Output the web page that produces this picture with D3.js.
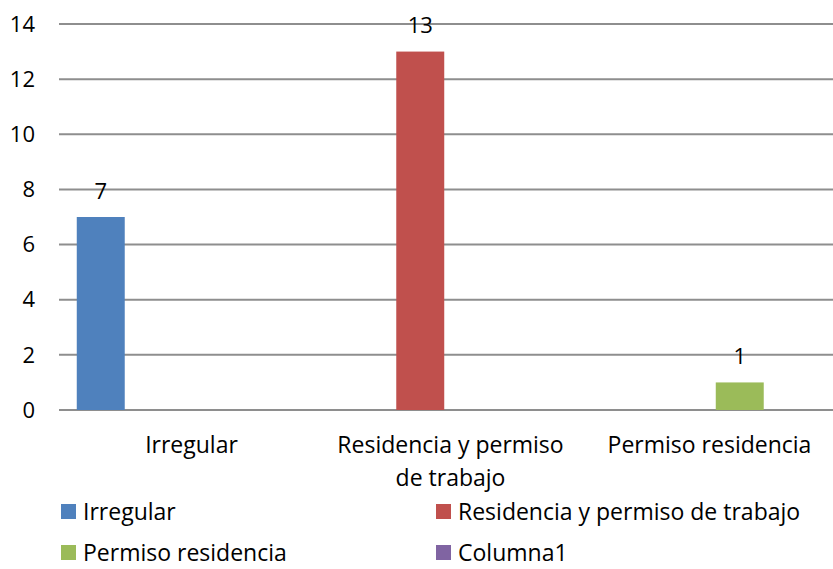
<!DOCTYPE html>
<html>
<head>
<meta charset="utf-8">
<script src="https://cdn.jsdelivr.net/npm/d3@7"></script>
<style>
  body { margin: 0; background: #fff; }
  text { font-family: 'Open Sans', sans-serif; fill: #000; }
</style>
</head>
<body>
<div id="chart"></div>
<script>
// data
const categories = ["Irregular", "Residencia y permiso de trabajo", "Permiso residencia"];
const series = ["Irregular", "Residencia y permiso de trabajo", "Permiso residencia", "Columna1"];
const colors = ["#4F81BD", "#C0504D", "#9BBB59", "#8064A2"];
// values[series][category]; null = no bar
const values = [
  [7, null, null],
  [null, 13, null],
  [null, null, 1],
  [null, null, null]
];
const yTicks = [0, 2, 4, 6, 8, 10, 12, 14];
const catLabelLines = [["Irregular"], ["Residencia y permiso", "de trabajo"], ["Permiso residencia"]];

const W = 833, H = 569;
const FS = 23;
const svg = d3.select("#chart").append("svg")
  .attr("width", W).attr("height", H)
  .attr("viewBox", `0 0 ${W} ${H}`);

const x0 = d3.scaleBand().domain(categories).range([62, 839]).paddingInner(0).paddingOuter(0);
const x1 = d3.scaleBand().domain(series).range([0, x0.bandwidth()]).paddingInner(0.207).paddingOuter(0.244);
const y = d3.scaleLinear().domain([0, 14]).range([410, 24]);

// gridlines
svg.append("g")
  .selectAll("line").data(yTicks).join("line")
  .attr("x1", 59).attr("x2", W)
  .attr("y1", d => y(d)).attr("y2", d => y(d))
  .attr("stroke", "#8e8e8e").attr("stroke-width", 2);

// y tick labels
svg.append("g")
  .selectAll("text").data(yTicks).join("text")
  .attr("x", 35).attr("y", d => y(d))
  .attr("dy", "0.35em").attr("text-anchor", "end")
  .attr("font-size", 22)
  .text(d => d);

// bars
const bars = [];
series.forEach((s, i) => categories.forEach((c, j) => {
  if (values[i][j] != null) bars.push({ s, c, v: values[i][j], color: colors[i] });
}));

svg.append("g")
  .selectAll("rect").data(bars).join("rect")
  .attr("x", d => x0(d.c) + x1(d.s))
  .attr("width", x1.bandwidth())
  .attr("y", d => y(d.v))
  .attr("height", d => y(0) - y(d.v))
  .attr("fill", d => d.color);

// data labels
svg.append("g")
  .selectAll("text").data(bars).join("text")
  .attr("x", d => x0(d.c) + x1(d.s) + x1.bandwidth() / 2)
  .attr("y", d => y(d.v) - 26)
  .attr("dy", "0.35em").attr("text-anchor", "middle")
  .attr("font-size", 22)
  .text(d => d.v);

// category labels
const cl = svg.append("g")
  .selectAll("text").data(categories).join("text")
  .attr("text-anchor", "middle")
  .attr("font-size", FS)
  .attr("transform", d => `translate(${x0(d) + x0.bandwidth() / 2},445)`);
cl.selectAll("tspan").data((d, i) => catLabelLines[i]).join("tspan")
  .attr("x", 0).attr("y", (d, i) => i * 33)
  .attr("dy", "0.35em")
  .text(d => d);

// legend
const legendX = [61, 436], legendY = [512, 553];
const lg = svg.append("g")
  .selectAll("g").data(series).join("g")
  .attr("transform", (d, i) => `translate(${legendX[i % 2]},${legendY[Math.floor(i / 2)]})`);
lg.append("rect").attr("x", 0).attr("y", -8).attr("width", 15).attr("height", 15)
  .attr("fill", (d, i) => colors[i]);
lg.append("text").attr("x", 22).attr("dy", "0.35em")
  .attr("font-size", FS).text(d => d);
</script>
</body>
</html>
